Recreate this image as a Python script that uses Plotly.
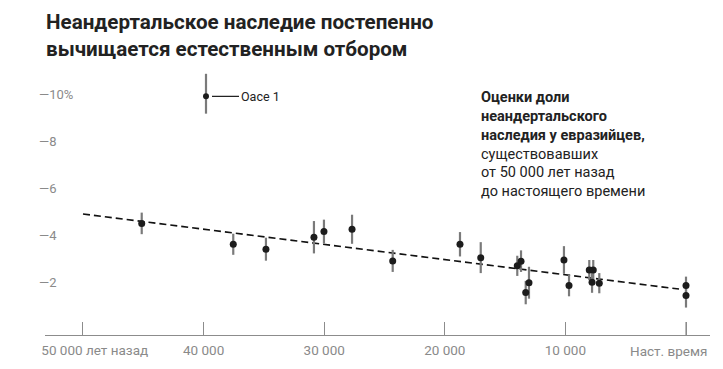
import plotly.graph_objects as go

# Data (years ago, Neanderthal ancestry %)
years_ago = [45130, 37540, 34830, 30850, 30020, 27690, 24320, 18740, 17020,
             13990, 13680, 13290, 13020, 10120, 9700, 8020, 7690, 7790, 7190, 0, 0]
ancestry = [4.50, 3.61, 3.40, 3.91, 4.15, 4.25, 2.90, 3.61, 3.04,
            2.69, 2.89, 1.55, 1.97, 2.94, 1.85, 2.51, 2.51, 1.99, 1.95, 1.85, 1.42]
ancestry_err = [0.46, 0.45, 0.49, 0.69, 0.51, 0.62, 0.47, 0.52, 0.66,
                0.43, 0.46, 0.50, 0.68, 0.59, 0.46, 0.43, 0.43, 0.45, 0.43, 0.38, 0.51]

oase_year = [39800]
oase_value = [9.92]
oase_err_plus = [0.96]
oase_err_minus = [0.74]
oase_label = "Оасе 1"

trend_years = [50000, 580]
trend_values = [4.90, 1.70]

x_tick_vals = [50000, 40000, 30000, 20000, 10000, 0]
x_tick_text = ["\u00a0" * 7 + "50\u00a0000 лет назад", "40\u00a0000", "30\u00a0000",
               "20\u00a0000", "10\u00a0000", ""]
present_label = "Наст. время"
y_tick_vals = [2, 4, 6, 8, 10]
y_tick_text = ["—2", "—4", "—6", "—8", "—10%"]

title_text = "Неандертальское наследие постепенно<br>вычищается естественным отбором"
note_bold = "Оценки доли<br>неандертальского<br>наследия у евразийцев,"
note_regular = "существовавших<br>от 50 000 лет назад<br>до настоящего времени"

ERR_COLOR = "#7a7a7a"
DOT_COLOR = "#1c1c1c"
AXIS_COLOR = "#8c8c8c"
TICK_FONT_COLOR = "#8a8a8a"
FONT = "Roboto, 'Open Sans', sans-serif"
TICK_LEN = 13

# The page body has an 8px margin, so the figure is 8px smaller than the window.
OFF = 8
W, H = 723 - OFF, 369 - OFF
ML, MR, MT, MB = 35 - OFF, 13, 71 - OFF, 34
PW = W - ML - MR
PH = H - MT - MB
X0 = 45 - OFF  # x-axis line start (figure px)

def px_x(p):  # p in window pixels
    return (p - OFF - ML) / PW

def px_y(p):
    return (H - MB - (p - OFF)) / PH

fig = go.Figure()

fig.add_trace(go.Scatter(
    x=trend_years, y=trend_values, mode="lines",
    line=dict(color="#111111", width=1.6, dash="7px,4px"),
    hoverinfo="skip", showlegend=False))

fig.add_trace(go.Scatter(
    x=years_ago, y=ancestry, mode="markers",
    marker=dict(color=DOT_COLOR, size=7),
    error_y=dict(type="data", array=ancestry_err, color=ERR_COLOR, thickness=2.2, width=0),
    showlegend=False))

fig.add_trace(go.Scatter(
    x=oase_year, y=oase_value, mode="markers",
    marker=dict(color=DOT_COLOR, size=6),
    error_y=dict(type="data", symmetric=False, array=oase_err_plus,
                 arrayminus=oase_err_minus, color=ERR_COLOR, thickness=2.2, width=0),
    showlegend=False))

fig.add_annotation(
    x=oase_year[0], y=oase_value[0], xref="x", yref="y",
    text=oase_label, showarrow=True, arrowhead=0, arrowwidth=1.2, arrowcolor="#222",
    ax=33, ay=0, standoff=6, xanchor="left",
    font=dict(family=FONT, size=12.5, color="#222"))

# right-aligned label and tick mark for the "present" tick
fig.add_annotation(
    x=x_tick_vals[-1], xref="x", yref="paper", y=px_y(351),
    text=present_label, showarrow=False, xanchor="right", yanchor="middle",
    xshift=23, font=dict(family=FONT, size=13.5, color=TICK_FONT_COLOR))
fig.add_shape(
    type="line", xref="x", yref="paper",
    x0=x_tick_vals[-1], x1=x_tick_vals[-1], y0=0, y1=TICK_LEN / PH,
    line=dict(color=AXIS_COLOR, width=1.2))

fig.add_annotation(
    xref="paper", yref="paper", x=px_x(479), y=px_y(87),
    xanchor="left", yanchor="top", align="left", showarrow=False,
    text="<b>" + note_bold + "</b><br>" + note_regular,
    font=dict(family=FONT, size=14.5, color="#222"))

fig.add_annotation(
    xref="paper", yref="paper", x=px_x(44), y=px_y(8),
    xanchor="left", yanchor="top", align="left", showarrow=False,
    text="<b>" + title_text + "</b>",
    font=dict(family=FONT, size=20.6, color="#222"))

fig.update_layout(
    width=W, height=H,
    margin=dict(l=ML, r=MR, t=MT, b=MB),
    paper_bgcolor="white", plot_bgcolor="white",
    xaxis=dict(domain=[(X0 - ML) / PW, 1], range=[53150, -1990],
               tickmode="array", tickvals=x_tick_vals,
               ticktext=x_tick_text, showgrid=False, zeroline=False,
               showline=True, linecolor=AXIS_COLOR, linewidth=1.2,
               ticks="inside", ticklen=TICK_LEN, tickcolor=AXIS_COLOR, tickwidth=1.2,
               automargin=False, ticklabeloverflow="allow", ticklabelstandoff=3,
               tickfont=dict(family=FONT, size=13.5, color=TICK_FONT_COLOR)),
    yaxis=dict(range=[-0.26, 11], anchor="free", position=0,
               tickmode="array", tickvals=y_tick_vals,
               ticktext=y_tick_text, showgrid=False, zeroline=False,
               showline=False, ticks="", ticklabelposition="inside",
               automargin=False,
               tickfont=dict(family=FONT, size=13, color=TICK_FONT_COLOR)),
)

fig.write_html("out.html")
